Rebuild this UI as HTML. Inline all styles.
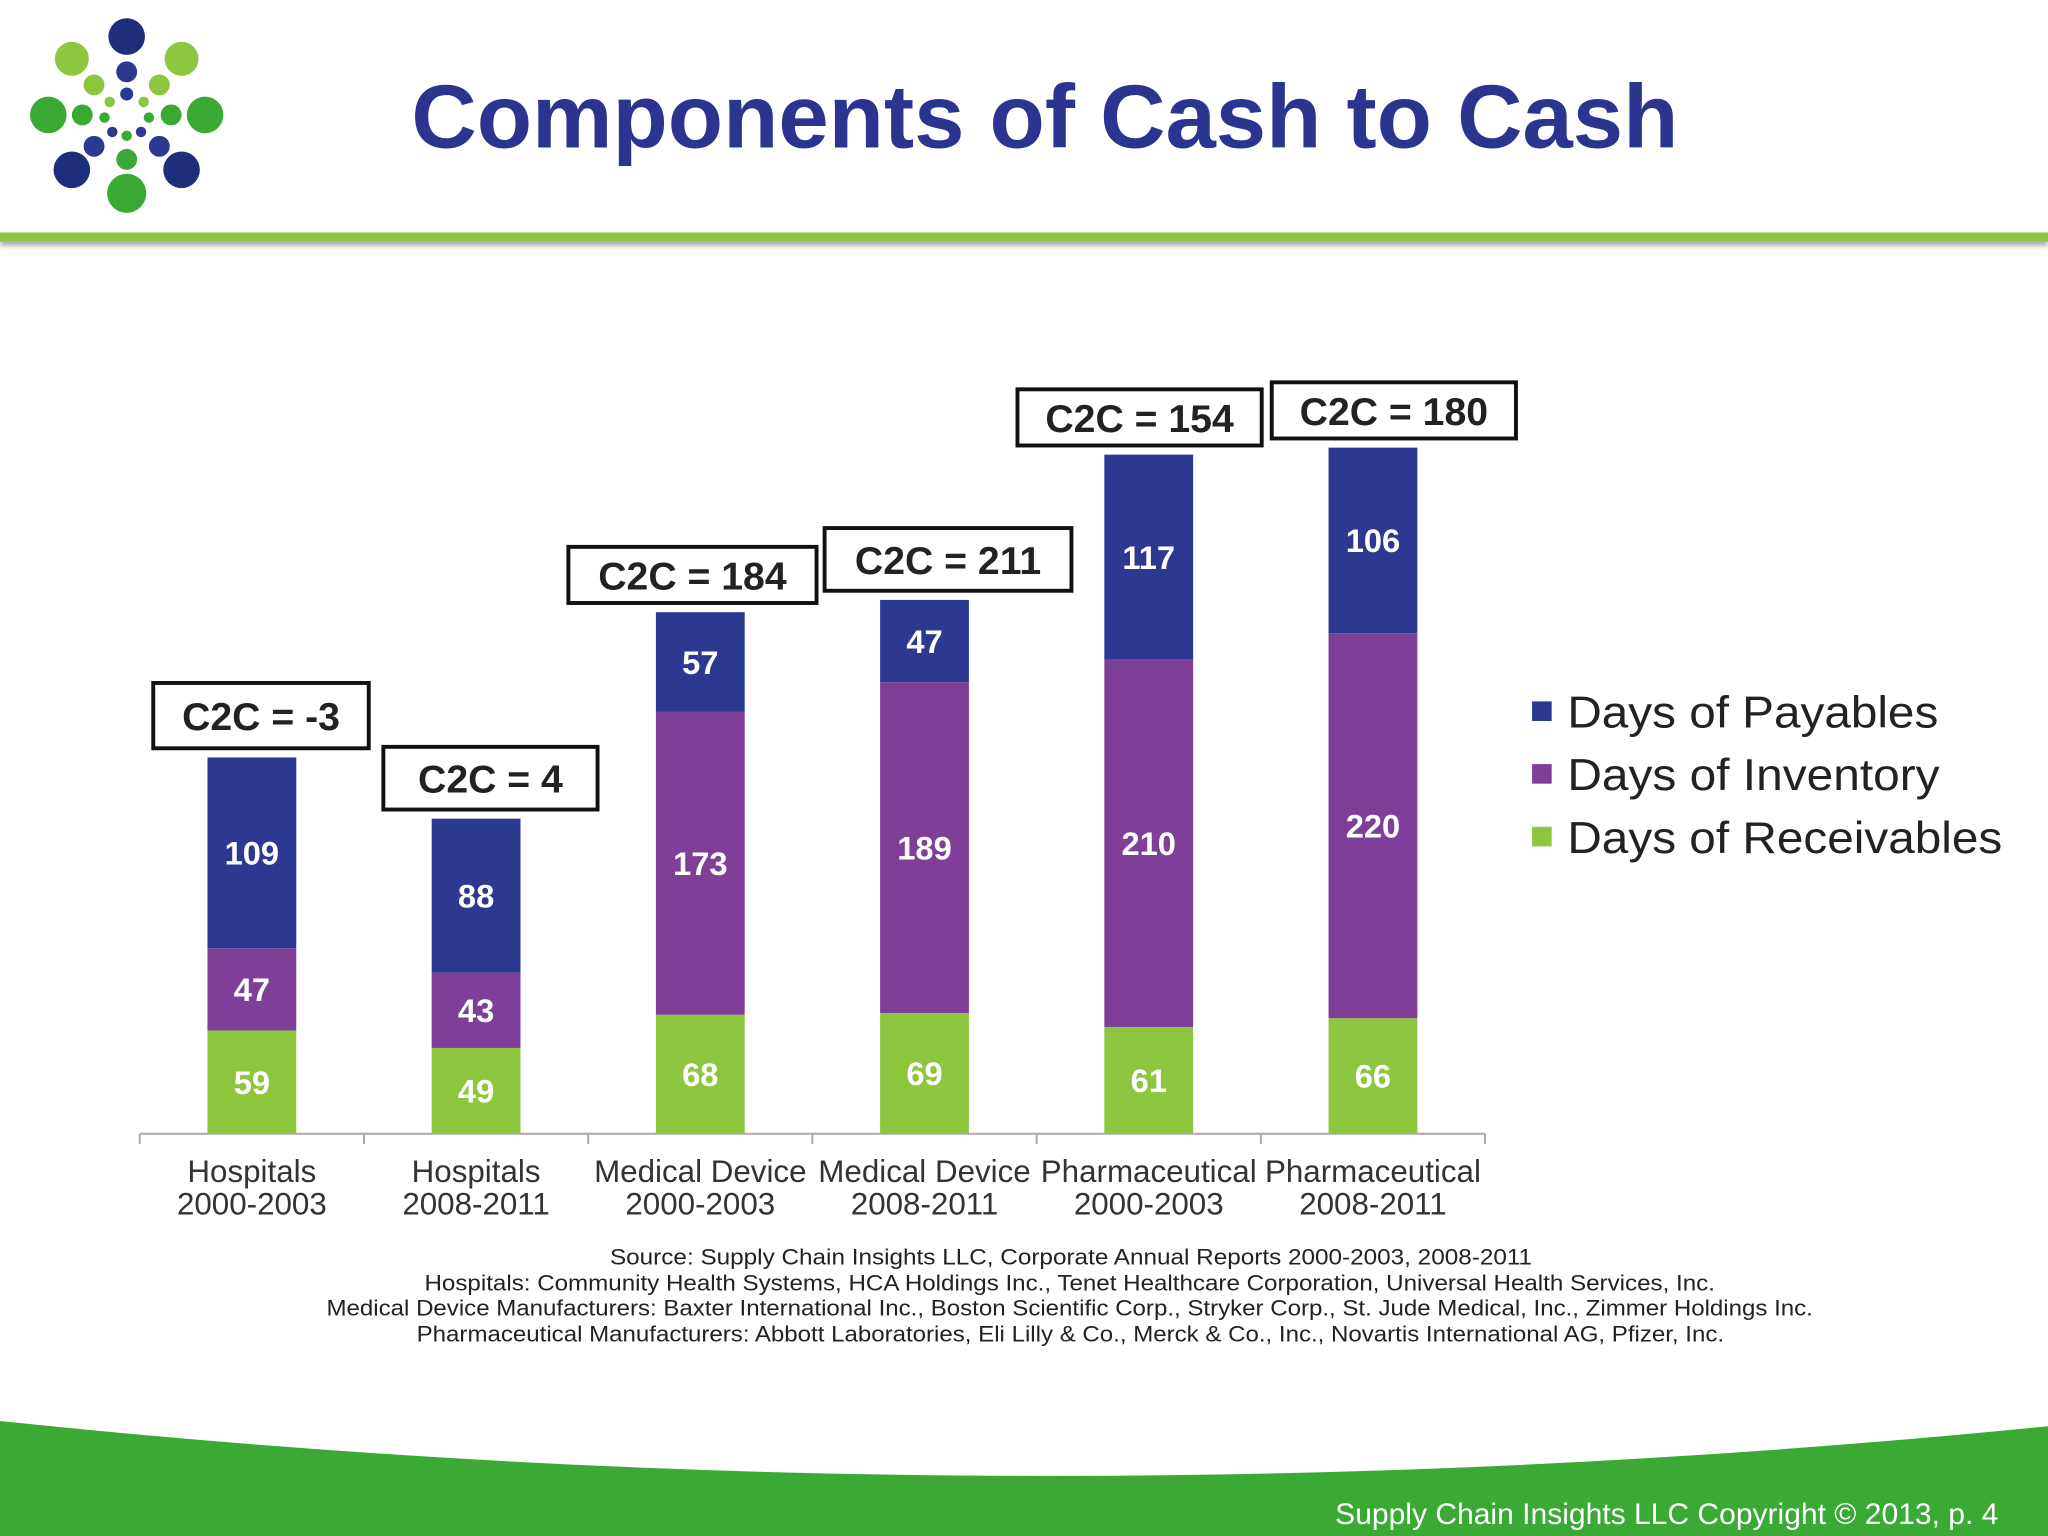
<!DOCTYPE html>
<html><head><meta charset="utf-8"><style>
html,body{margin:0;padding:0;background:#fff;}
svg{display:block;font-family:"Liberation Sans",Arial,sans-serif;}
</style></head><body>
<svg width="2048" height="1536" viewBox="0 0 1568 1176" xmlns="http://www.w3.org/2000/svg">
<defs><filter id="sh" x="-5%" y="-50%" width="110%" height="300%"><feDropShadow dx="0" dy="3" stdDeviation="2" flood-color="#000" flood-opacity="0.35"/></filter></defs>
<g id="logo"></g>
<text x="800" y="113" text-anchor="middle" font-size="69" font-weight="bold" fill="#2b3590" textLength="970" lengthAdjust="spacingAndGlyphs">Components of Cash to Cash</text>
<rect x="0" y="178" width="1568" height="7" fill="#8cc63f" filter="url(#sh)"/>
<path d="M0,1088 Q784,1170 1568,1092 L1568,1176 L0,1176 Z" fill="#3aaa35"/>
<text x="1530" y="1167" text-anchor="end" font-size="23" fill="#fff">Supply Chain Insights LLC Copyright © 2013, p. 4</text>
<g id="chart"></g>
<g font-size="34" fill="#222">
<rect x="1173" y="537" width="15" height="15" fill="#2b3990"/>
<text x="1200" y="557" textLength="284" lengthAdjust="spacingAndGlyphs">Days of Payables</text>
<rect x="1173" y="585" width="15" height="15" fill="#7f3f98"/>
<text x="1200" y="605" textLength="285" lengthAdjust="spacingAndGlyphs">Days of Inventory</text>
<rect x="1173" y="633" width="15" height="15" fill="#8dc63f"/>
<text x="1200" y="653" textLength="333" lengthAdjust="spacingAndGlyphs">Days of Receivables</text>
</g>
<g font-size="17" fill="#222" lengthAdjust="spacingAndGlyphs">
<text x="467" y="968" textLength="706" lengthAdjust="spacingAndGlyphs">Source:  Supply Chain Insights LLC, Corporate Annual Reports 2000-2003, 2008-2011</text>
<text x="325" y="988" textLength="988" lengthAdjust="spacingAndGlyphs">Hospitals:  Community Health Systems, HCA Holdings Inc., Tenet Healthcare Corporation, Universal Health Services, Inc.</text>
<text x="250" y="1007" textLength="1138" lengthAdjust="spacingAndGlyphs">Medical Device  Manufacturers:  Baxter International Inc., Boston Scientific Corp., Stryker Corp., St. Jude Medical, Inc., Zimmer Holdings Inc.</text>
<text x="319" y="1027" textLength="1001" lengthAdjust="spacingAndGlyphs">Pharmaceutical Manufacturers:  Abbott Laboratories, Eli Lilly &amp; Co., Merck &amp; Co., Inc., Novartis International AG, Pfizer, Inc.</text>
</g>
</svg>
<script>
const categories1 = ["Hospitals","Hospitals","Medical Device","Medical Device","Pharmaceutical","Pharmaceutical"];
const categories2 = ["2000-2003","2008-2011","2000-2003","2008-2011","2000-2003","2008-2011"];
const receivables = [59,49,68,69,61,66];
const inventory = [47,43,173,189,210,220];
const payables = [109,88,57,47,117,106];
const c2cLabels = ["C2C = -3","C2C = 4","C2C = 184","C2C = 211","C2C = 154","C2C = 180"];
const NS="http://www.w3.org/2000/svg";
const chart=document.getElementById('chart');
const x0=107,x1=1137,base=868,k=1.34,bw=68;
const boxDx=[7,11,-6,18,-7,16], boxW=[165,164,190,189,187,187], boxH=[50,48,43,48,43,43];
const step=(x1-x0)/categories1.length;
const xc=i=>x0+step*(i+0.5);
const y=v=>base-v*k;
function mk(tag,attrs,parent){const e=document.createElementNS(NS,tag);for(const a in attrs)e.setAttribute(a,attrs[a]);(parent||chart).appendChild(e);return e;}
const axis=mk('line',{x1:x0,x2:x1,y1:base,y2:base,stroke:'#aaa','stroke-width':1.5});


for(let i=0;i<=categories1.length;i++){const t=mk('line',{x1:x0+step*i,x2:x0+step*i,y1:base,y2:base+8,stroke:'#aaa','stroke-width':1.5});

}
const series=[[receivables,'#8dc63f','receivables'],[inventory,'#7f3f98','inventory'],[payables,'#2b3990','payables']];
categories1.forEach((c,i)=>{
 let cum=0;
 series.forEach(([arr,col,nm])=>{
  const v=arr[i];
  const r=mk('rect',{x:xc(i)-bw/2,y:y(cum+v),width:bw,height:v*k,fill:col});
  
  
  const t=mk('text',{x:xc(i),y:y(cum+v/2)+9,'text-anchor':'middle','font-size':25,'font-weight':'bold',fill:'#fff'});
  t.textContent=v;
  
  
  cum+=v;
 });
 const top=y(cum);
 const w=boxW[i], h=boxH[i], cx=xc(i)+boxDx[i];
 const b=mk('rect',{x:cx-w/2,y:top-h-7,width:w,height:h,fill:'#fff',stroke:'#111','stroke-width':3});
 
 
 const bt=mk('text',{x:cx,y:top-h/2-7+11,'text-anchor':'middle','font-size':30,'font-weight':'bold',fill:'#222'});
 bt.textContent=c2cLabels[i];
 
 
 const l1=mk('text',{x:xc(i),y:905,'text-anchor':'middle','font-size':24,fill:'#333'});
 l1.textContent=c;
 
 
 const l2=mk('text',{x:xc(i),y:930,'text-anchor':'middle','font-size':24,fill:'#333'});
 l2.textContent=categories2[i];
 
 
});
const logo=document.getElementById('logo');
const dots=[[97,28,14,'#1f2e7a'],[55,45,13,'#8dc63f'],[139,45,13,'#8dc63f'],[37,88,14,'#3aaa35'],[157,88,14,'#3aaa35'],[55,130,14,'#1f2e7a'],[139,130,14,'#1f2e7a'],[97,148,15,'#3aaa35'],
[97,55,8,'#2b3990'],[72,65,8,'#8dc63f'],[122,65,8,'#8dc63f'],[63,88,8,'#3aaa35'],[131,88,8,'#3aaa35'],[72,112,8,'#2b3990'],[122,112,8,'#2b3990'],[97,122,8,'#3aaa35'],
[97,72,5,'#2b3990'],[84,78,4,'#8dc63f'],[110,78,4,'#8dc63f'],[80,90,4,'#3aaa35'],[114,90,4,'#3aaa35'],[86,101,4,'#2b3990'],[108,101,4,'#2b3990'],[97,104,4,'#3aaa35']];
dots.forEach(d=>{const c=mk('circle',{cx:d[0],cy:d[1],r:d[2],fill:d[3]},logo);

});
</script>
</body></html>
